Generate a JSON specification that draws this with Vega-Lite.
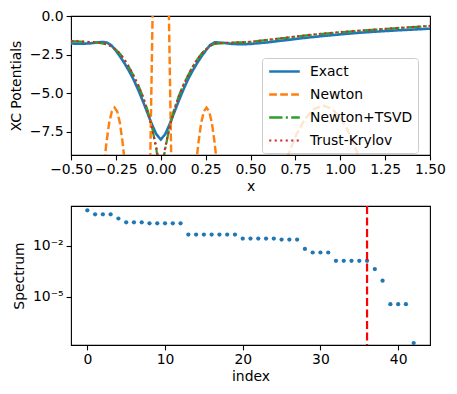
{
  "$schema": "https://vega.github.io/schema/vega-lite/v6.json",
  "padding": {"left": 8, "top": 8, "right": 5, "bottom": 5},
  "spacing": 9,
  "datasets": {
    "pot": [
      {"x": -0.5, "v": -1.78, "series": "Exact"},
      {"x": -0.45, "v": -1.8, "series": "Exact"},
      {"x": -0.4, "v": -1.78, "series": "Exact"},
      {"x": -0.35, "v": -1.71, "series": "Exact"},
      {"x": -0.325, "v": -1.68, "series": "Exact"},
      {"x": -0.3, "v": -1.72, "series": "Exact"},
      {"x": -0.275, "v": -1.9, "series": "Exact"},
      {"x": -0.25, "v": -2.25, "series": "Exact"},
      {"x": -0.225, "v": -2.65, "series": "Exact"},
      {"x": -0.2, "v": -3.1, "series": "Exact"},
      {"x": -0.175, "v": -3.6, "series": "Exact"},
      {"x": -0.15, "v": -4.15, "series": "Exact"},
      {"x": -0.125, "v": -4.8, "series": "Exact"},
      {"x": -0.1, "v": -5.5, "series": "Exact"},
      {"x": -0.075, "v": -6.25, "series": "Exact"},
      {"x": -0.05, "v": -7.0, "series": "Exact"},
      {"x": -0.025, "v": -7.65, "series": "Exact"},
      {"x": 0.0, "v": -8.0, "series": "Exact"},
      {"x": 0.025, "v": -7.65, "series": "Exact"},
      {"x": 0.05, "v": -7.0, "series": "Exact"},
      {"x": 0.075, "v": -6.25, "series": "Exact"},
      {"x": 0.1, "v": -5.5, "series": "Exact"},
      {"x": 0.125, "v": -4.8, "series": "Exact"},
      {"x": 0.15, "v": -4.15, "series": "Exact"},
      {"x": 0.175, "v": -3.6, "series": "Exact"},
      {"x": 0.2, "v": -3.1, "series": "Exact"},
      {"x": 0.225, "v": -2.65, "series": "Exact"},
      {"x": 0.25, "v": -2.25, "series": "Exact"},
      {"x": 0.275, "v": -1.88, "series": "Exact"},
      {"x": 0.3, "v": -1.7, "series": "Exact"},
      {"x": 0.35, "v": -1.74, "series": "Exact"},
      {"x": 0.4, "v": -1.81, "series": "Exact"},
      {"x": 0.45, "v": -1.83, "series": "Exact"},
      {"x": 0.5, "v": -1.81, "series": "Exact"},
      {"x": 0.6, "v": -1.7, "series": "Exact"},
      {"x": 0.7, "v": -1.56, "series": "Exact"},
      {"x": 0.8, "v": -1.42, "series": "Exact"},
      {"x": 0.9, "v": -1.3, "series": "Exact"},
      {"x": 1.0, "v": -1.19, "series": "Exact"},
      {"x": 1.1, "v": -1.09, "series": "Exact"},
      {"x": 1.2, "v": -1.01, "series": "Exact"},
      {"x": 1.3, "v": -0.94, "series": "Exact"},
      {"x": 1.4, "v": -0.88, "series": "Exact"},
      {"x": 1.5, "v": -0.82, "series": "Exact"},

      {"x": -0.5, "v": -40, "series": "Newton"},
      {"x": -0.4, "v": -25, "series": "Newton"},
      {"x": -0.3275, "v": -11.4, "series": "Newton"},
      {"x": -0.31, "v": -9.0, "series": "Newton"},
      {"x": -0.3025, "v": -8.19, "series": "Newton"},
      {"x": -0.2875, "v": -6.93, "series": "Newton"},
      {"x": -0.2725, "v": -6.18, "series": "Newton"},
      {"x": -0.2575, "v": -5.93, "series": "Newton"},
      {"x": -0.2425, "v": -6.18, "series": "Newton"},
      {"x": -0.2275, "v": -6.93, "series": "Newton"},
      {"x": -0.2125, "v": -8.19, "series": "Newton"},
      {"x": -0.205, "v": -9.0, "series": "Newton"},
      {"x": -0.1875, "v": -11.4, "series": "Newton"},
      {"x": -0.13, "v": -20, "series": "Newton"},
      {"x": -0.065, "v": -14, "series": "Newton"},
      {"x": -0.04, "v": 4, "series": "Newton"},
      {"x": 0.0, "v": 15, "series": "Newton"},
      {"x": 0.04, "v": 4, "series": "Newton"},
      {"x": 0.065, "v": -14, "series": "Newton"},
      {"x": 0.13, "v": -20, "series": "Newton"},
      {"x": 0.185, "v": -11.4, "series": "Newton"},
      {"x": 0.2025, "v": -9.0, "series": "Newton"},
      {"x": 0.21, "v": -8.19, "series": "Newton"},
      {"x": 0.225, "v": -6.93, "series": "Newton"},
      {"x": 0.24, "v": -6.18, "series": "Newton"},
      {"x": 0.255, "v": -5.93, "series": "Newton"},
      {"x": 0.27, "v": -6.18, "series": "Newton"},
      {"x": 0.285, "v": -6.93, "series": "Newton"},
      {"x": 0.3, "v": -8.19, "series": "Newton"},
      {"x": 0.3075, "v": -9.0, "series": "Newton"},
      {"x": 0.325, "v": -11.4, "series": "Newton"},
      {"x": 0.5, "v": -25, "series": "Newton"},
      {"x": 0.655, "v": -11.06, "series": "Newton"},
      {"x": 0.71, "v": -9.0, "series": "Newton"},
      {"x": 0.755, "v": -7.69, "series": "Newton"},
      {"x": 0.805, "v": -6.64, "series": "Newton"},
      {"x": 0.855, "v": -6.01, "series": "Newton"},
      {"x": 0.905, "v": -5.8, "series": "Newton"},
      {"x": 0.955, "v": -6.01, "series": "Newton"},
      {"x": 1.005, "v": -6.64, "series": "Newton"},
      {"x": 1.055, "v": -7.69, "series": "Newton"},
      {"x": 1.1, "v": -9.0, "series": "Newton"},
      {"x": 1.155, "v": -11.06, "series": "Newton"},
      {"x": 1.3, "v": -25, "series": "Newton"},
      {"x": 1.5, "v": -40, "series": "Newton"},

      {"x": -0.5, "v": -1.63, "series": "Newton+TSVD"},
      {"x": -0.45, "v": -1.66, "series": "Newton+TSVD"},
      {"x": -0.4, "v": -1.69, "series": "Newton+TSVD"},
      {"x": -0.35, "v": -1.73, "series": "Newton+TSVD"},
      {"x": -0.3, "v": -1.83, "series": "Newton+TSVD"},
      {"x": -0.275, "v": -1.97, "series": "Newton+TSVD"},
      {"x": -0.25, "v": -2.18, "series": "Newton+TSVD"},
      {"x": -0.225, "v": -2.48, "series": "Newton+TSVD"},
      {"x": -0.2, "v": -2.88, "series": "Newton+TSVD"},
      {"x": -0.175, "v": -3.35, "series": "Newton+TSVD"},
      {"x": -0.15, "v": -3.9, "series": "Newton+TSVD"},
      {"x": -0.125, "v": -4.5, "series": "Newton+TSVD"},
      {"x": -0.1, "v": -5.2, "series": "Newton+TSVD"},
      {"x": -0.075, "v": -6.05, "series": "Newton+TSVD"},
      {"x": -0.05, "v": -7.1, "series": "Newton+TSVD"},
      {"x": -0.025, "v": -8.6, "series": "Newton+TSVD"},
      {"x": 0.0, "v": -10.5, "series": "Newton+TSVD"},
      {"x": 0.025, "v": -8.6, "series": "Newton+TSVD"},
      {"x": 0.05, "v": -7.1, "series": "Newton+TSVD"},
      {"x": 0.075, "v": -6.05, "series": "Newton+TSVD"},
      {"x": 0.1, "v": -5.2, "series": "Newton+TSVD"},
      {"x": 0.125, "v": -4.5, "series": "Newton+TSVD"},
      {"x": 0.15, "v": -3.9, "series": "Newton+TSVD"},
      {"x": 0.175, "v": -3.35, "series": "Newton+TSVD"},
      {"x": 0.2, "v": -2.88, "series": "Newton+TSVD"},
      {"x": 0.225, "v": -2.48, "series": "Newton+TSVD"},
      {"x": 0.25, "v": -2.18, "series": "Newton+TSVD"},
      {"x": 0.275, "v": -1.95, "series": "Newton+TSVD"},
      {"x": 0.3, "v": -1.8, "series": "Newton+TSVD"},
      {"x": 0.35, "v": -1.75, "series": "Newton+TSVD"},
      {"x": 0.4, "v": -1.73, "series": "Newton+TSVD"},
      {"x": 0.45, "v": -1.71, "series": "Newton+TSVD"},
      {"x": 0.5, "v": -1.68, "series": "Newton+TSVD"},
      {"x": 0.6, "v": -1.55, "series": "Newton+TSVD"},
      {"x": 0.7, "v": -1.41, "series": "Newton+TSVD"},
      {"x": 0.8, "v": -1.27, "series": "Newton+TSVD"},
      {"x": 0.9, "v": -1.15, "series": "Newton+TSVD"},
      {"x": 1.0, "v": -1.05, "series": "Newton+TSVD"},
      {"x": 1.1, "v": -0.96, "series": "Newton+TSVD"},
      {"x": 1.2, "v": -0.88, "series": "Newton+TSVD"},
      {"x": 1.3, "v": -0.8, "series": "Newton+TSVD"},
      {"x": 1.4, "v": -0.72, "series": "Newton+TSVD"},
      {"x": 1.5, "v": -0.65, "series": "Newton+TSVD"},

      {"x": -0.5, "v": -1.61, "series": "Trust-Krylov"},
      {"x": -0.45, "v": -1.64, "series": "Trust-Krylov"},
      {"x": -0.4, "v": -1.68, "series": "Trust-Krylov"},
      {"x": -0.35, "v": -1.72, "series": "Trust-Krylov"},
      {"x": -0.3, "v": -1.82, "series": "Trust-Krylov"},
      {"x": -0.275, "v": -1.96, "series": "Trust-Krylov"},
      {"x": -0.25, "v": -2.17, "series": "Trust-Krylov"},
      {"x": -0.225, "v": -2.47, "series": "Trust-Krylov"},
      {"x": -0.2, "v": -2.87, "series": "Trust-Krylov"},
      {"x": -0.175, "v": -3.34, "series": "Trust-Krylov"},
      {"x": -0.15, "v": -3.89, "series": "Trust-Krylov"},
      {"x": -0.125, "v": -4.5, "series": "Trust-Krylov"},
      {"x": -0.1, "v": -5.22, "series": "Trust-Krylov"},
      {"x": -0.075, "v": -6.1, "series": "Trust-Krylov"},
      {"x": -0.05, "v": -7.2, "series": "Trust-Krylov"},
      {"x": -0.025, "v": -8.5, "series": "Trust-Krylov"},
      {"x": 0.0, "v": -10.0, "series": "Trust-Krylov"},
      {"x": 0.025, "v": -8.5, "series": "Trust-Krylov"},
      {"x": 0.05, "v": -7.2, "series": "Trust-Krylov"},
      {"x": 0.075, "v": -6.1, "series": "Trust-Krylov"},
      {"x": 0.1, "v": -5.22, "series": "Trust-Krylov"},
      {"x": 0.125, "v": -4.5, "series": "Trust-Krylov"},
      {"x": 0.15, "v": -3.89, "series": "Trust-Krylov"},
      {"x": 0.175, "v": -3.34, "series": "Trust-Krylov"},
      {"x": 0.2, "v": -2.87, "series": "Trust-Krylov"},
      {"x": 0.225, "v": -2.47, "series": "Trust-Krylov"},
      {"x": 0.25, "v": -2.17, "series": "Trust-Krylov"},
      {"x": 0.275, "v": -1.94, "series": "Trust-Krylov"},
      {"x": 0.3, "v": -1.79, "series": "Trust-Krylov"},
      {"x": 0.35, "v": -1.74, "series": "Trust-Krylov"},
      {"x": 0.4, "v": -1.72, "series": "Trust-Krylov"},
      {"x": 0.45, "v": -1.7, "series": "Trust-Krylov"},
      {"x": 0.5, "v": -1.67, "series": "Trust-Krylov"},
      {"x": 0.6, "v": -1.54, "series": "Trust-Krylov"},
      {"x": 0.7, "v": -1.4, "series": "Trust-Krylov"},
      {"x": 0.8, "v": -1.26, "series": "Trust-Krylov"},
      {"x": 0.9, "v": -1.14, "series": "Trust-Krylov"},
      {"x": 1.0, "v": -1.04, "series": "Trust-Krylov"},
      {"x": 1.1, "v": -0.95, "series": "Trust-Krylov"},
      {"x": 1.2, "v": -0.87, "series": "Trust-Krylov"},
      {"x": 1.3, "v": -0.79, "series": "Trust-Krylov"},
      {"x": 1.4, "v": -0.71, "series": "Trust-Krylov"},
      {"x": 1.5, "v": -0.64, "series": "Trust-Krylov"}
    ],
    "spec": [
      {"index": 0, "value": 1.18},
      {"index": 1, "value": 0.69},
      {"index": 2, "value": 0.69},
      {"index": 3, "value": 0.69},
      {"index": 4, "value": 0.39},
      {"index": 5, "value": 0.234},
      {"index": 6, "value": 0.234},
      {"index": 7, "value": 0.234},
      {"index": 8, "value": 0.204},
      {"index": 9, "value": 0.204},
      {"index": 10, "value": 0.204},
      {"index": 11, "value": 0.204},
      {"index": 12, "value": 0.204},
      {"index": 13, "value": 0.045},
      {"index": 14, "value": 0.045},
      {"index": 15, "value": 0.045},
      {"index": 16, "value": 0.045},
      {"index": 17, "value": 0.045},
      {"index": 18, "value": 0.045},
      {"index": 19, "value": 0.045},
      {"index": 20, "value": 0.026},
      {"index": 21, "value": 0.026},
      {"index": 22, "value": 0.026},
      {"index": 23, "value": 0.026},
      {"index": 24, "value": 0.026},
      {"index": 25, "value": 0.023},
      {"index": 26, "value": 0.023},
      {"index": 27, "value": 0.023},
      {"index": 28, "value": 0.0065},
      {"index": 29, "value": 0.004},
      {"index": 30, "value": 0.004},
      {"index": 31, "value": 0.004},
      {"index": 32, "value": 0.0013},
      {"index": 33, "value": 0.0013},
      {"index": 34, "value": 0.0013},
      {"index": 35, "value": 0.0013},
      {"index": 36, "value": 0.0013},
      {"index": 37, "value": 0.00043},
      {"index": 38, "value": 0.000089},
      {"index": 39, "value": 0.0000038},
      {"index": 40, "value": 0.0000038},
      {"index": 41, "value": 0.0000038},
      {"index": 42, "value": 0.00000002}
    ],
    "cut": [
      {"index": 36}
    ]
  },
  "vconcat": [
    {
      "width": 359,
      "height": 139,
      "data": {"name": "pot"},
      "mark": {"type": "line", "clip": true},
      "encoding": {
        "x": {"field": "x", "type": "quantitative", "title": "x",
          "scale": {"domain": [-0.5, 1.5], "nice": false, "zero": false},
          "axis": {"values": [-0.5, -0.25, 0, 0.25, 0.5, 0.75, 1, 1.25, 1.5], "labelOverlap": false, "labelFlush": false, "labelExpr": "replace(format(datum.value, '.2f'), '-', '−')", "titlePadding": 3}},
        "y": {"field": "v", "type": "quantitative", "title": "XC Potentials",
          "scale": {"domain": [-9, 0], "nice": false, "zero": false},
          "axis": {"values": [0, -2.5, -5, -7.5], "labelFlush": false, "labelExpr": "replace(format(datum.value, '.1f'), '-', '−')", "titlePadding": 6}},
        "color": {"field": "series", "type": "nominal", "title": null,
          "scale": {"domain": ["Exact", "Newton", "Newton+TSVD", "Trust-Krylov"], "range": ["#1f77b4", "#ff7f0e", "#2ca02c", "#d62728"]},
          "legend": {"orient": "none", "legendX": 191, "legendY": 42}},
        "strokeDash": {"field": "series", "type": "nominal", "title": null,
          "scale": {"domain": ["Exact", "Newton", "Newton+TSVD", "Trust-Krylov"], "range": [[1, 0], [7.7, 3.3], [13.3, 3.3, 2.1, 3.3], [2.1, 3.4]]},
          "legend": {"orient": "none", "legendX": 191, "legendY": 42}},
        "strokeWidth": {"field": "series", "type": "nominal",
          "scale": {"domain": ["Exact", "Newton", "Newton+TSVD", "Trust-Krylov"], "range": [2.6, 2.1, 2.1, 2.1]},
          "legend": null}
      }
    },
    {
      "width": 359,
      "height": 139,
      "layer": [
        {
          "data": {"name": "spec"},
          "mark": {"type": "circle", "size": 18, "opacity": 1, "color": "#1f77b4"},
          "encoding": {
            "x": {"field": "index", "type": "quantitative", "title": "index",
              "scale": {"domain": [-2.1, 44.1], "nice": false, "zero": false},
              "axis": {"values": [0, 10, 20, 30, 40], "labelFlush": false, "titlePadding": 3}},
            "y": {"field": "value", "type": "quantitative", "title": "Spectrum",
              "scale": {"type": "log", "domain": [1.55e-8, 2.1], "nice": false},
              "axis": {"values": [0.01, 0.00001], "labelFlush": false, "labelExpr": "datum.value > 0.001 ? '10⁻²' : '10⁻⁵'", "titlePadding": 6}}
          }
        },
        {
          "data": {"name": "cut"},
          "mark": {"type": "rule", "color": "#ff0000", "strokeWidth": 2.2, "strokeDash": [8, 3.5]},
          "encoding": {"x": {"field": "index", "type": "quantitative"}}
        }
      ]
    }
  ],
  "config": {
    "font": "DejaVu Sans",
    "view": {"stroke": "#000000", "strokeWidth": 1.1},
    "axis": {
      "labelFont": "DejaVu Sans", "labelFontSize": 13.9, "labelColor": "#000000",
      "titleFont": "DejaVu Sans", "titleFontSize": 13.9, "titleFontWeight": "normal", "titleColor": "#000000",
      "tickColor": "#000000", "tickSize": 4.9, "tickWidth": 1.1, "domain": false, "grid": false, "labelPadding": 3
    },
    "legend": {
      "labelFont": "DejaVu Sans", "labelFontSize": 13.9, "labelColor": "#000000",
      "fillColor": "rgba(255,255,255,0.8)", "strokeColor": "#cccccc", "cornerRadius": 3, "padding": 5,
      "symbolType": "M-0.9,0H3.47", "symbolSize": 196, "symbolStrokeWidth": 2.1, "rowPadding": 7, "labelOffset": 26
    }
  }
}
